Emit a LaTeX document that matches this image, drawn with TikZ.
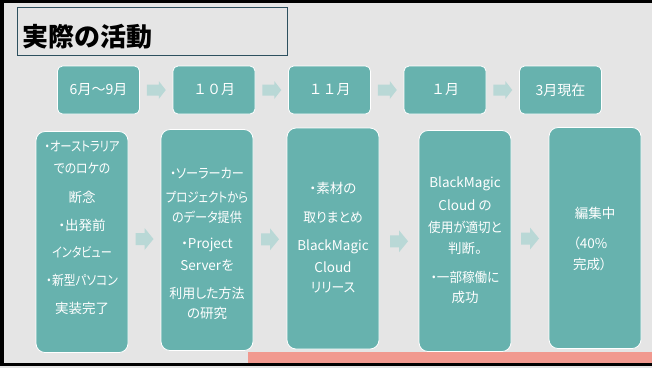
\documentclass[tikz,border=0pt]{standalone}
\usepackage{fontspec}
\usepackage{graphicx}
\usetikzlibrary{calc}
\newfontfamily\jp{Noto Sans CJK JP}
\newfontfamily\jpp{Noto Sans CJK JP}[RawFeature={+palt}]
\definecolor{bgc}{RGB}{229,229,229}
\definecolor{tealc}{RGB}{103,178,174}
\definecolor{arrowc}{RGB}{185,216,214}
\definecolor{pinkbar}{RGB}{241,153,143}
\definecolor{titleline}{RGB}{45,80,95}
\tikzset{
  topbox/.style={rounded corners=5pt, fill=tealc, draw=white, line width=0.8pt,
    minimum width=82pt, minimum height=48pt, inner sep=0pt, text=white,
    font=\jp\fontsize{14}{16}\selectfont},
  botbox/.style={rounded corners=9pt, fill=tealc, draw=white, line width=0.8pt,
    minimum width=92pt, minimum height=221pt, inner sep=0pt},
  btxt/.style={text=white, inner sep=0pt, font=\jpp\fontsize{13.5}{15}\selectfont},
  toparrow/.pic={\fill[arrowc] (-9.5,-5.5) -- (2.5,-5.5) -- (2.5,-9) -- (9.5,0) -- (2.5,9) -- (2.5,5.5) -- (-9.5,5.5) -- cycle;},
  botarrow/.pic={\fill[arrowc] (-9,-6) -- (0,-6) -- (0,-11) -- (9,0) -- (0,11) -- (0,6) -- (-9,6) -- cycle;}
}
\begin{document}
\begin{tikzpicture}[x=1pt,y=-1pt]
\useasboundingbox (0,0) rectangle (652,368);
% background and frame
\fill[bgc] (0,0) rectangle (652,368);
\fill[black] (0,0) rectangle (652,3);
\fill[black] (0,0) rectangle (4,366);
\fill[pinkbar] (248,352) rectangle (652,363);
\fill[black] (0,363) rectangle (652,366);
% title
\node[draw=titleline, line width=0.8pt, fill=bgc, minimum width=270pt, minimum height=48pt,
  inner sep=0pt, anchor=north west] (titlebox) at (17,7) {};
\node[anchor=west, inner sep=0pt, font=\jp\bfseries\fontsize{26}{30}\selectfont] (title) at (22,37) {実際の活動};
% top row
\node[topbox] (t1) at (98.5,90) {6月～9月};
\node[topbox] (t2) at (214,90) {１０月};
\node[topbox] (t3) at (329.5,90) {１１月};
\node[topbox] (t4) at (445,90) {１月};
\node[topbox] (t5) at (560.5,90) {3月現在};
\foreach \a/\b in {t1/t2,t2/t3,t3/t4,t4/t5}
  \pic at ($(\a.east)!0.5!(\b.west)$) {toparrow};
% bottom row
\node[botbox] (b1) at (82,242) {};
\node[botbox] (b2) at (207,240) {};
\node[botbox] (b3) at (333,238.5) {};
\node[botbox] (b4) at (465,241) {};
\node[botbox] (b5) at (595,238) {};
\foreach \a/\b in {b1/b2,b2/b3,b3/b4,b4/b5}
  \pic at ($(\a.east)!0.5!(\b.west)+(0,240)-(0,0|-\a.center)$) {botarrow};
% texts box 1
\foreach \y/\s/\t [count=\i] in {146/0.84/・オーストラリア,168/0.88/でのロケの,197/1/断念,225/1/・出発前,252/0.82/インタビュー,280/0.87/・新型パソコン,308/1/実装完了}
  \node[btxt] (b1l\i) at (82,\y) {\scalebox{\s}[1]{\t}};
% texts box 2
\foreach \y/\s/\t [count=\i] in {173/0.9/・ソーラーカー,197/0.85/プロジェクトから,217/0.9/のデータ提供,245/1/・Project,265/1/Serverを,293/0.96/利用した方法,313/1/の研究}
  \node[btxt] (b2l\i) at (207,\y) {\scalebox{\s}[1]{\t}};
% texts box 3
\foreach \y/\s/\t [count=\i] in {188/1/・素材の,218/0.95/取りまとめ,247/1/BlackMagic,267/1/Cloud,288/0.95/リリース}
  \node[btxt] (b3l\i) at (333,\y) {\scalebox{\s}[1]{\t}};
% texts box 4
\foreach \y/\s/\t [count=\i] in {184/1/BlackMagic,205/1/Cloud の,227/0.93/使用が適切と,248/1/判断。,277/0.93/・一部稼働に,297/1/成功}
  \node[btxt] (b4l\i) at (465,\y) {\scalebox{\s}[1]{\t}};
% texts box 5
\node[btxt] (b5l1) at (595,213) {編集中};
\node[btxt, anchor=west] (b5l2) at (573,243) {（40\%};
\node[btxt, anchor=west] (b5l3) at (573,264) {完成）};
\end{tikzpicture}
\end{document}
